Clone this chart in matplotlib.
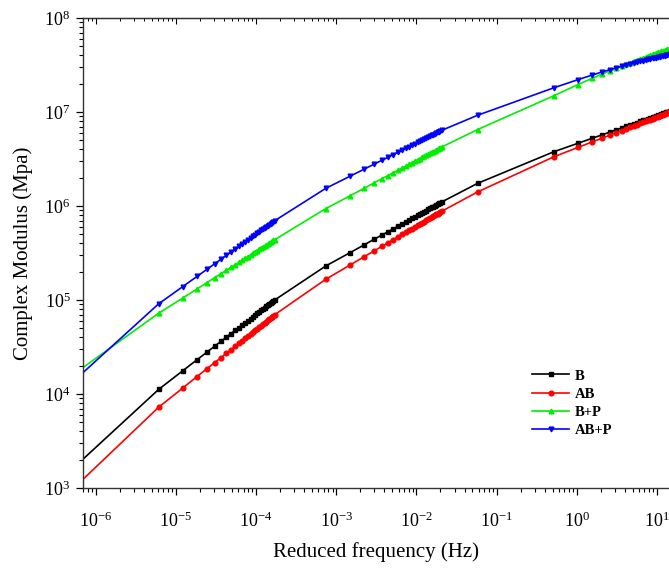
import matplotlib
matplotlib.use("Agg")
import matplotlib.pyplot as plt

# test frequencies of one sweep (Hz) and the shift factors of the three sweeps
sweep_hz = [1, 2, 3, 4, 5, 6, 7, 8, 9, 10, 11, 12, 13, 14,
            15, 16, 17, 18, 19, 20, 21, 22, 23, 24, 25, 26, 27, 28]
shift_factors = [6.1e-6, 7.4e-4, 0.52]
edge_freq = 6.0e-7   # first point, just left of the axis
mid_freq = 0.058     # lone point between the 2nd and 3rd sweep

labels = ["B", "AB", "B+P", "AB+P"]
colors = ["black", "#ff0000", "#00ee00", "#0000ff"]
markers = ["s", "o", "^", "v"]

edge_vals = [1810, 1100, 17500, 15100]
mid_vals = [1.74e6, 1.41e6, 6.50e6, 9.23e6]

b_g1 = [11200, 17700, 23100, 27900, 32300, 36400, 40300, 44000, 47500, 50900,
        54200, 57400, 60500, 63500, 66500, 69300, 72100, 75000, 77600, 80400,
        83000, 85500, 88100, 90600, 92900, 95500, 97700, 100000]
b_g2 = [230000, 318000, 385000, 442000, 490000, 533000, 574000, 611000, 646000,
        679000, 710000, 740000, 769000, 796000, 822000, 847000, 871000, 895000,
        918000, 942000, 964000, 984000, 1007000, 1026000, 1045000, 1064000,
        1084000, 1104000]
b_g3 = [3.78e6, 4.65e6, 5.25e6, 5.72e6, 6.11e6, 6.46e6, 6.76e6, 7.03e6, 7.28e6,
        7.52e6, 7.73e6, 7.94e6, 8.13e6, 8.32e6, 8.49e6, 8.65e6, 8.81e6, 8.95e6,
        9.10e6, 9.25e6, 9.38e6, 9.51e6, 9.64e6, 9.77e6, 9.89e6, 1.000e7,
        1.012e7, 1.023e7]

ab_g1 = [7240, 11600, 15300, 18600, 21600, 24400, 27200, 29700, 32200, 34600,
         36900, 39200, 41300, 43400, 45500, 47600, 49500, 51500, 53500, 55300,
         57300, 59000, 61000, 62700, 64400, 66200, 67900, 69700]
ab_g2 = [166000, 235000, 288000, 332000, 372000, 406000, 440000, 470000, 498000,
         525000, 551000, 575000, 598000, 621000, 643000, 664000, 684000, 705000,
         724000, 743000, 760000, 778000, 796000, 813000, 830000, 847000, 863000,
         879000]
ab_g3 = [3.34e6, 4.20e6, 4.80e6, 5.27e6, 5.68e6, 6.03e6, 6.34e6, 6.62e6, 6.89e6,
         7.13e6, 7.35e6, 7.57e6, 7.78e6, 7.96e6, 8.15e6, 8.32e6, 8.49e6, 8.65e6,
         8.81e6, 8.95e6, 9.10e6, 9.25e6, 9.38e6, 9.51e6, 9.64e6, 9.77e6, 9.89e6,
         1.000e7]

bp_g1 = [72400, 105000, 131000, 153000, 173000, 191000, 207000, 223000, 237000,
         251000, 264000, 277000, 290000, 301000, 313000, 324000, 334000, 345000,
         356000, 366000, 375000, 385000, 394000, 403000, 412000, 421000, 430000,
         438000]
bp_g2 = [9.38e5, 1.28e6, 1.54e6, 1.76e6, 1.95e6, 2.11e6, 2.27e6, 2.40e6, 2.54e6,
         2.66e6, 2.78e6, 2.89e6, 3.00e6, 3.10e6, 3.20e6, 3.29e6, 3.38e6, 3.48e6,
         3.56e6, 3.64e6, 3.72e6, 3.80e6, 3.88e6, 3.95e6, 4.03e6, 4.10e6, 4.17e6,
         4.24e6]
bp_g3 = [1.49e7, 1.96e7, 2.28e7, 2.54e7, 2.74e7, 2.92e7, 3.08e7, 3.22e7, 3.35e7,
         3.47e7, 3.57e7, 3.67e7, 3.77e7, 3.86e7, 3.94e7, 4.02e7, 4.09e7, 4.16e7,
         4.23e7, 4.30e7, 4.36e7, 4.42e7, 4.48e7, 4.53e7, 4.58e7, 4.63e7, 4.69e7,
         4.73e7]

abp_g1 = [91200, 139000, 178000, 212000, 243000, 272000, 299000, 324000, 348000,
          372000, 394000, 415000, 437000, 456000, 475000, 494000, 513000, 532000,
          550000, 568000, 583000, 601000, 618000, 634000, 650000, 665000, 681000,
          697000]
abp_g2 = [1.54e6, 2.07e6, 2.46e6, 2.78e6, 3.06e6, 3.30e6, 3.53e6, 3.74e6, 3.93e6,
          4.11e6, 4.29e6, 4.45e6, 4.60e6, 4.74e6, 4.89e6, 5.02e6, 5.15e6, 5.28e6,
          5.41e6, 5.53e6, 5.65e6, 5.75e6, 5.88e6, 5.97e6, 6.08e6, 6.18e6, 6.28e6,
          6.38e6]
abp_g3 = [1.81e7, 2.21e7, 2.47e7, 2.67e7, 2.82e7, 2.95e7, 3.06e7, 3.16e7, 3.24e7,
          3.32e7, 3.39e7, 3.46e7, 3.52e7, 3.57e7, 3.62e7, 3.67e7, 3.72e7, 3.77e7,
          3.80e7, 3.85e7, 3.88e7, 3.92e7, 3.95e7, 3.98e7, 4.02e7, 4.05e7, 4.07e7,
          4.10e7]

groups = [
    (b_g1, b_g2, b_g3),
    (ab_g1, ab_g2, ab_g3),
    (bp_g1, bp_g2, bp_g3),
    (abp_g1, abp_g2, abp_g3),
]

plt.rcParams["font.family"] = ["Liberation Serif", "DejaVu Serif"]
plt.rcParams["mathtext.fontset"] = "custom"
plt.rcParams["mathtext.rm"] = "Liberation Serif"
plt.rcParams["axes.unicode_minus"] = False

fig = plt.figure(figsize=(6.69, 5.74), dpi=100)
ax = fig.add_axes([83 / 669, 86 / 574, 586 / 669, 470 / 574])
ax.set_xscale("log")
ax.set_yscale("log")

for i, (g1, g2, g3) in enumerate(groups):
    x = [edge_freq]
    y = [edge_vals[i]]
    x += [f * shift_factors[0] for f in sweep_hz]
    y += g1
    x += [f * shift_factors[1] for f in sweep_hz]
    y += g2
    x += [mid_freq]
    y += [mid_vals[i]]
    x += [f * shift_factors[2] for f in sweep_hz]
    y += g3
    ax.plot(x, y, color=colors[i], marker=markers[i], markersize=3.4,
            linewidth=1.2, label=labels[i])

ax.set_xlim(6.93e-7, 14.2)
ax.set_ylim(1e3, 1e8)

ax.spines["right"].set_visible(False)
for s in ["left", "bottom", "top"]:
    ax.spines[s].set_linewidth(1.0)
    ax.spines[s].set_color("#333333")

ax.tick_params(which="major", length=5, width=0.9, labelsize=13, direction="out")
ax.tick_params(which="minor", length=3, width=0.8, direction="out")
ax.tick_params(axis="x", pad=12)
ax.tick_params(axis="y", pad=4)

top = ax.secondary_xaxis("top")
top.tick_params(which="both", direction="in", labeltop=False)
top.tick_params(which="major", length=4, width=0.8)
top.tick_params(which="minor", length=2.5, width=0.7)

ax.set_xlabel("Reduced frequency (Hz)", fontsize=15, labelpad=8)
ax.set_ylabel("Complex Modulus (Mpa)", fontsize=15, labelpad=8)

ax.legend(loc="upper left", bbox_to_anchor=(525 / 669, 1 - 362 / 574),
          bbox_transform=fig.transFigure, frameon=False, borderpad=0,
          handlelength=2.5, handletextpad=0.4, labelspacing=0.35,
          prop={"weight": "bold", "size": 10.5})

fig.savefig("out.png", dpi=100)
